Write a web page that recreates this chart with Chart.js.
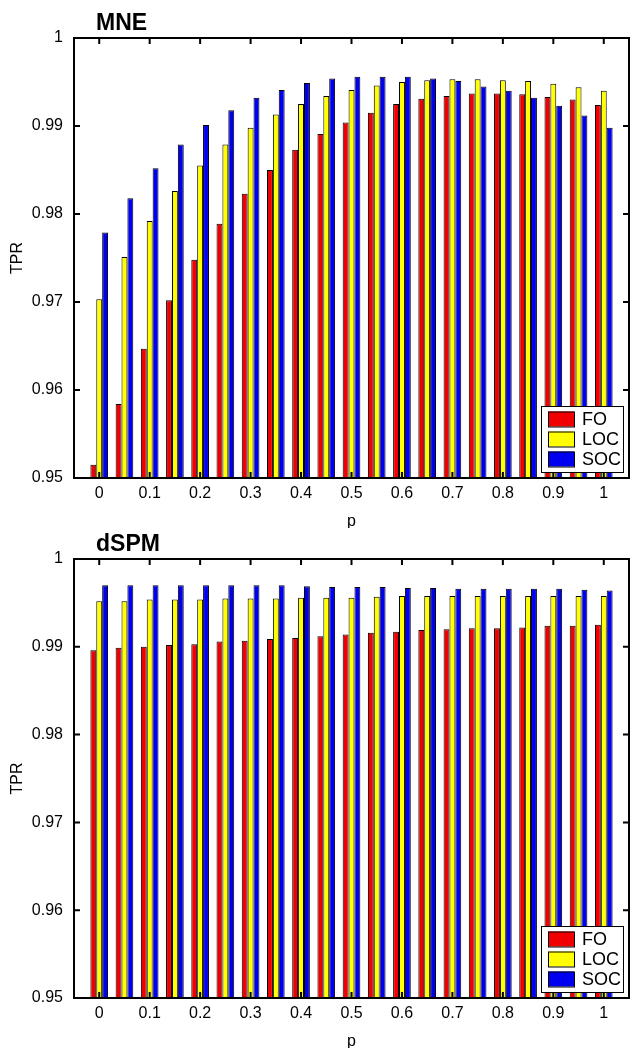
<!DOCTYPE html>
<html>
<head>
<meta charset="utf-8">
<title>TPR vs p</title>
<script src="https://cdn.jsdelivr.net/npm/chart.js@4.4.1/dist/chart.umd.min.js"></script>
<style>
  body { margin: 0; background: #fff; }
  canvas { display: block; }
</style>
</head>
<body>
<canvas id="mneChart" width="630" height="528"></canvas>
<canvas id="dspmChart" width="630" height="520"></canvas>
<script>
// x positions (p) and axis ticks
const pValues = [0, 0.05, 0.1, 0.15, 0.2, 0.25, 0.3, 0.35, 0.4, 0.45, 0.5,
                 0.55, 0.6, 0.65, 0.7, 0.75, 0.8, 0.85, 0.9, 0.95, 1];
const xTicks = [0, 0.1, 0.2, 0.3, 0.4, 0.5, 0.6, 0.7, 0.8, 0.9, 1];
const yTicks = [0.95, 0.96, 0.97, 0.98, 0.99, 1];

const seriesNames = ['FO', 'LOC', 'SOC'];
const seriesColors = ['#f00000', '#ffff00', '#0000f0'];

// --- MNE ---
const mneFO  = [0.9515, 0.9584, 0.9647, 0.9702, 0.9748, 0.9789, 0.9823, 0.9850, 0.9873, 0.9891, 0.9904,
                0.9915, 0.9925, 0.9931, 0.9934, 0.9937, 0.9937, 0.9936, 0.9933, 0.9930, 0.9924];
const mneLOC = [0.9703, 0.9751, 0.9792, 0.9826, 0.9855, 0.9879, 0.9898, 0.9913, 0.9925, 0.9934, 0.9941,
                0.9946, 0.9950, 0.9952, 0.9953, 0.9953, 0.9952, 0.9951, 0.9948, 0.9944, 0.9940];
const mneSOC = [0.9779, 0.9818, 0.9852, 0.9879, 0.9901, 0.9918, 0.9932, 0.9941, 0.9949, 0.9954, 0.9956,
                0.9956, 0.9956, 0.9954, 0.9951, 0.9945, 0.9940, 0.9932, 0.9923, 0.9912, 0.9898];

// --- dSPM ---
const dspmFO  = [0.9896, 0.9899, 0.9900, 0.9902, 0.9903, 0.9906, 0.9907, 0.9909, 0.9910, 0.9912, 0.9914,
                 0.9916, 0.9917, 0.9919, 0.9920, 0.9921, 0.9921, 0.9922, 0.9924, 0.9924, 0.9925];
const dspmLOC = [0.9952, 0.9952, 0.9954, 0.9954, 0.9954, 0.9955, 0.9955, 0.9955, 0.9956, 0.9956, 0.9956,
                 0.9957, 0.9958, 0.9958, 0.9958, 0.9958, 0.9958, 0.9958, 0.9958, 0.9958, 0.9958];
const dspmSOC = [0.9970, 0.9970, 0.9970, 0.9970, 0.9970, 0.9970, 0.9970, 0.9970, 0.9969, 0.9968, 0.9968,
                 0.9968, 0.9967, 0.9967, 0.9966, 0.9966, 0.9966, 0.9966, 0.9966, 0.9965, 0.9964];

const FONT = '"Liberation Sans", Arial, Helvetica, sans-serif';

// box around the axes with inward ticks, plus title and legend inside
const axesBox = {
    id: 'axesBox',
    afterDatasetsDraw(chart) {
        const { ctx, chartArea: a, scales } = chart;
        ctx.save();
        ctx.strokeStyle = '#000';
        ctx.lineWidth = 2;
        ctx.strokeRect(a.left, a.top, a.right - a.left, a.bottom - a.top);
        ctx.beginPath();
        scales.x.ticks.forEach(t => {
            const x = scales.x.getPixelForValue(t.value);
            ctx.moveTo(x, a.bottom); ctx.lineTo(x, a.bottom - 6);
            ctx.moveTo(x, a.top); ctx.lineTo(x, a.top + 6);
        });
        scales.y.ticks.forEach(t => {
            const y = scales.y.getPixelForValue(t.value);
            ctx.moveTo(a.left, y); ctx.lineTo(a.left + 6, y);
            ctx.moveTo(a.right, y); ctx.lineTo(a.right - 6, y);
        });
        ctx.stroke();
        ctx.restore();
    },
    afterDraw(chart, args, opts) {
        const { ctx, chartArea: a } = chart;
        ctx.save();

        // title
        ctx.fillStyle = '#000';
        ctx.font = 'bold 23px ' + FONT;
        ctx.textBaseline = 'alphabetic';
        ctx.textAlign = 'left';
        ctx.fillText(opts.title, a.left + 22, a.top - 8);

        // legend
        const w = 82, h = 66;
        const bx = a.right - 6 - w, by = a.bottom - 6 - h;
        ctx.fillStyle = '#fff';
        ctx.fillRect(bx, by, w, h);
        ctx.strokeStyle = '#000';
        ctx.lineWidth = 1;
        ctx.strokeRect(bx + 0.5, by + 0.5, w, h);
        ctx.font = '18px ' + FONT;
        ctx.textBaseline = 'middle';
        chart.data.datasets.forEach((ds, i) => {
            const cy = by + 13 + i * 20;
            ctx.fillStyle = ds.backgroundColor;
            ctx.fillRect(bx + 7, cy - 7.5, 26, 15);
            ctx.strokeRect(bx + 7.5, cy - 7, 26, 15);
            ctx.fillStyle = '#000';
            ctx.fillText(ds.label, bx + 41, cy + 1);
        });
        ctx.restore();
    }
};

function makeChart(id, title, series, padTop) {
    return new Chart(document.getElementById(id), {
        type: 'bar',
        data: {
            datasets: series.map((vals, i) => ({
                label: seriesNames[i],
                data: pValues.map((p, k) => ({ x: p, y: vals[k] })),
                backgroundColor: seriesColors[i],
                borderColor: '#000',
                borderWidth: 1,
                categoryPercentage: 0.7,
                barPercentage: 1.0
            }))
        },
        options: {
            responsive: false,
            animation: false,
            layout: { padding: { top: padTop, bottom: 0, left: 0, right: 1 } },
            plugins: {
                legend: { display: false },
                tooltip: { enabled: false },
                axesBox: { title: title }
            },
            scales: {
                x: {
                    type: 'linear',
                    min: -0.05,
                    max: 1.05,
                    offset: false,
                    grid: { display: false, drawTicks: false },
                    border: { display: false },
                    afterBuildTicks: s => { s.ticks = xTicks.map(v => ({ value: v })); },
                    afterFit: s => { s.height = 50; },
                    ticks: {
                        padding: 6, color: '#000', autoSkip: false, maxRotation: 0,
                        font: { family: FONT, size: 16 },
                        callback: v => String(v)
                    },
                    title: {
                        display: true, text: 'p', color: '#000',
                        font: { family: FONT, size: 16 },
                        padding: { top: 0, bottom: -3 }
                    }
                },
                y: {
                    min: 0.95,
                    max: 1,
                    grid: { display: false, drawTicks: false },
                    border: { display: false },
                    afterBuildTicks: s => { s.ticks = yTicks.map(v => ({ value: v })); },
                    afterFit: s => { s.width = 74; },
                    ticks: {
                        padding: 11, color: '#000',
                        font: { family: FONT, size: 16 },
                        callback: v => String(v)
                    },
                    title: {
                        display: true, text: 'TPR', color: '#000',
                        font: { family: FONT, size: 16 },
                        padding: { top: 8, bottom: 0 }
                    }
                }
            }
        },
        plugins: [axesBox]
    });
}

makeChart('mneChart', 'MNE', [mneFO, mneLOC, mneSOC], 38);
makeChart('dspmChart', 'dSPM', [dspmFO, dspmLOC, dspmSOC], 31);
</script>
</body>
</html>
